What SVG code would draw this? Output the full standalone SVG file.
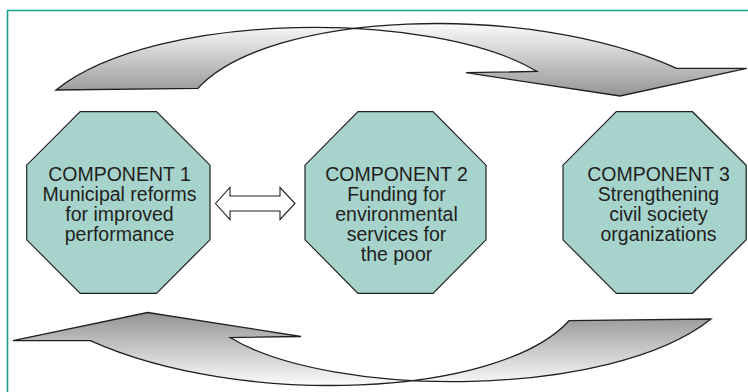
<svg xmlns="http://www.w3.org/2000/svg" width="748" height="392" viewBox="0 0 748 392">
<defs>
<style>
.oct{fill:#a6d4cc;stroke:#231f20;stroke-width:1.2;stroke-linejoin:miter}
.lbl{font-family:"Liberation Sans",Arial,sans-serif;font-size:19.5px;fill:#231f20;text-anchor:middle}
.big{stroke:#231f20;stroke-width:1.3;stroke-linejoin:miter}
.dbl{fill:#ffffff;stroke:#231f20;stroke-width:1.1}
</style>
<linearGradient id="gTop" gradientUnits="userSpaceOnUse" x1="0" y1="25" x2="0" y2="97">
<stop offset="0" stop-color="#f9f9f9"/>
<stop offset="1" stop-color="#939393"/>
</linearGradient>
<linearGradient id="gBot" gradientUnits="userSpaceOnUse" x1="0" y1="384" x2="0" y2="312">
<stop offset="0" stop-color="#f9f9f9"/>
<stop offset="1" stop-color="#939393"/>
</linearGradient>
</defs>
<rect width="748" height="392" fill="#ffffff"/>
<path d="M7.5,392 V10.5 H748" fill="none" stroke="#17a08c" stroke-width="1.6"/>
<g id="connectors">
<path id="arrow-top" class="big" fill="url(#gTop)" d="M56,90 C156,10 435,10 537,71.5 L466,72.7 L620,96 L746.7,68.3 L676.7,68.3 C526.7,0.8 268,11.3 198,88.3 Z"/>
<path id="arrow-bottom" class="big" fill="url(#gBot)" d="M711,319 C611,399 332,399 230,337.5 L301,336.5 L147.5,312.5 L13,340.7 L90.3,340.7 C240.3,408.2 499,397.7 569,320.7 Z"/>
<path id="arrow-1-2" class="dbl" d="M215.5,203.5 L230,187.5 L230,196 L280,196 L280,187.5 L295,203.5 L280,219.5 L280,211 L230,211 L230,219.5 Z"/>
</g>
<g id="node-1">
<polygon class="oct" points="80.2,111.7 156.5,111.7 210,165.2 210,239.8 156.5,293.3 80.2,293.3 26.7,239.8 26.7,165.2"/>
<text class="lbl" x="119.5" y="181">COMPONENT 1</text>
<text class="lbl" x="119.5" y="201">Municipal reforms</text>
<text class="lbl" x="119.5" y="221">for improved</text>
<text class="lbl" x="119.5" y="241">performance</text>
</g>
<g id="node-2">
<polygon class="oct" points="358,111.7 433,111.7 486,165.2 486,239.8 433,293.3 358,293.3 305,239.8 305,165.2"/>
<text class="lbl" x="396.5" y="181">COMPONENT 2</text>
<text class="lbl" x="396.5" y="201">Funding for</text>
<text class="lbl" x="396.5" y="221">environmental</text>
<text class="lbl" x="396.5" y="241">services for</text>
<text class="lbl" x="396.5" y="261">the poor</text>
</g>
<g id="node-3">
<polygon class="oct" points="616.3,111.7 692.5,111.7 746.2,165.2 746.2,239.8 692.5,293.3 616.3,293.3 563,239.8 563,165.2"/>
<text class="lbl" x="658.5" y="181">COMPONENT 3</text>
<text class="lbl" x="658.5" y="201">Strengthening</text>
<text class="lbl" x="658.5" y="221">civil society</text>
<text class="lbl" x="658.5" y="241">organizations</text>
</g>
</svg>
